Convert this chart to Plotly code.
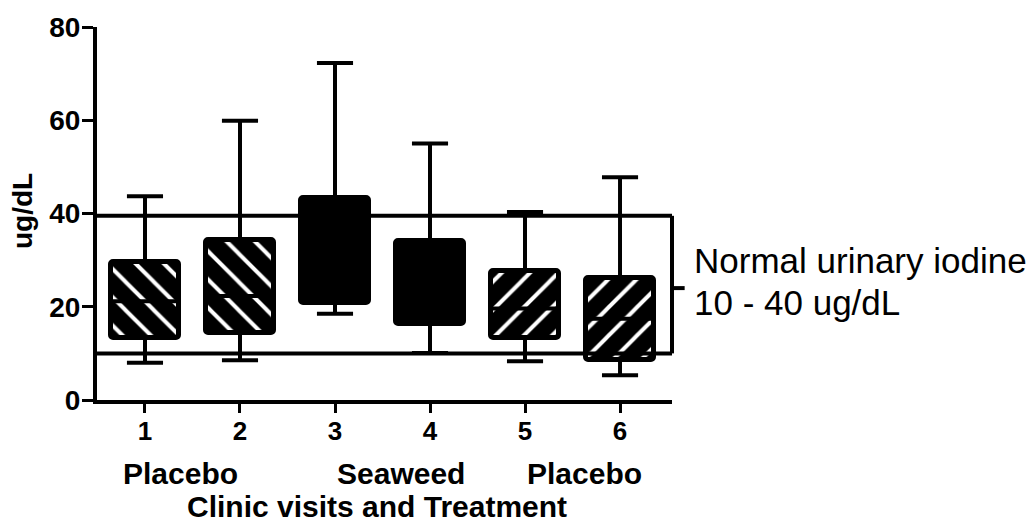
import plotly.graph_objects as go

# ---- data ----
visits = [1, 2, 3, 4, 5, 6]
whisker_min = [8.0, 8.5, 18.5, 10.1, 8.3, 5.3]
q1 = [13.3, 14.4, 20.9, 16.3, 13.4, 8.5]
median = [21.2, 22.3, 31.0, 24.0, 19.6, 17.4]
q3 = [29.5, 34.4, 43.3, 34.1, 27.7, 26.1]
whisker_max = [43.7, 59.9, 72.3, 55.0, 40.3, 47.8]
fill_pattern = ["\\", "\\", "", "", "/", "/"]
treatment_labels = ["Placebo", "Seaweed", "Placebo"]
normal_low = 10
normal_high = 39.5
y_ticks = [0, 20, 40, 60, 80]

# ---- styling / layout constants ----
FONT = "Liberation Sans, Arial, sans-serif"
BOX_W = 0.72
CAP_HALF = 0.19
LW = 4
treat_x = [1.37, 3.69, 5.63]

fig = go.Figure()

# whiskers
wx, wy = [], []
for x, lo, a, b, hi in zip(visits, whisker_min, q1, q3, whisker_max):
    wx += [x, x, None, x, x, None]
    wy += [b, hi, None, a, lo, None]
    wx += [x - CAP_HALF, x + CAP_HALF, None, x - CAP_HALF, x + CAP_HALF, None]
    wy += [hi, hi, None, lo, lo, None]
fig.add_trace(go.Scatter(x=wx, y=wy, mode="lines",
                         line=dict(color="black", width=LW),
                         hoverinfo="skip", showlegend=False))

# boxes
fig.add_trace(go.Bar(
    x=visits,
    y=[b - a for a, b in zip(q1, q3)],
    base=q1,
    width=BOX_W,
    marker=dict(
        color="black",
        line=dict(color="black", width=5),
        pattern=dict(shape=fill_pattern, fgcolor="white", bgcolor="black",
                     size=20, solidity=0.2, fillmode="replace"),
        cornerradius=3,
    ),
    showlegend=False,
))

# medians
mx, my = [], []
for x, m in zip(visits, median):
    mx += [x - BOX_W / 2, x + BOX_W / 2, None]
    my += [m, m, None]
fig.add_trace(go.Scatter(x=mx, y=my, mode="lines",
                         line=dict(color="black", width=LW),
                         hoverinfo="skip", showlegend=False))

# normal range lines and bracket
shapes = []
for v in (normal_low, normal_high):
    shapes.append(dict(type="line", xref="paper", yref="y", x0=0, x1=1, y0=v, y1=v,
                       line=dict(color="black", width=LW)))
shapes.append(dict(type="line", xref="paper", yref="y", x0=1, x1=1,
                   y0=normal_low, y1=normal_high, line=dict(color="black", width=LW)))
mid = 24
shapes.append(dict(type="line", xref="paper", yref="y", x0=1, x1=1.022,
                   y0=mid, y1=mid, line=dict(color="black", width=LW)))

annotations = [
    dict(text="Normal urinary iodine", xref="paper", yref="paper", x=1.034, y=0.374,
         xanchor="left", yanchor="middle", showarrow=False,
         font=dict(family=FONT, size=35, color="black")),
    dict(text="10 - 40 ug/dL", xref="paper", yref="paper", x=1.034, y=0.2626,
         xanchor="left", yanchor="middle", showarrow=False,
         font=dict(family=FONT, size=35, color="black")),
    dict(text="<b>ug/dL</b>", xref="paper", yref="paper", x=-0.1304, y=0.5066,
         textangle=-90, xanchor="center", yanchor="middle", showarrow=False,
         font=dict(family=FONT, size=28, color="black")),
    dict(text="<b>Clinic visits and Treatment</b>", xref="x", yref="paper", x=3.44, y=-0.2865,
         xanchor="center", yanchor="middle", showarrow=False,
         font=dict(family=FONT, size=30, color="black")),
]
for lbl, tx in zip(treatment_labels, treat_x):
    annotations.append(dict(text=f"<b>{lbl}</b>", xref="x", yref="paper", x=tx, y=-0.1976,
                            xanchor="center", yanchor="middle", showarrow=False,
                            font=dict(family=FONT, size=30, color="black")))

fig.update_layout(
    width=1031, height=523,
    margin=dict(l=97, r=359, t=23, b=123),
    paper_bgcolor="white", plot_bgcolor="white",
    shapes=shapes, annotations=annotations,
    bargap=0,
    xaxis=dict(range=[0.495, 6.547], tickmode="array", tickvals=visits,
               ticktext=[f"<b>{v}</b>" for v in visits],
               showline=True, linecolor="black", linewidth=LW,
               ticks="outside", ticklen=9, tickwidth=3, tickcolor="black",
               ticklabelstandoff=-4,
               showgrid=False, zeroline=False,
               tickfont=dict(family=FONT, size=26, color="black")),
    yaxis=dict(range=[0, 80], tickmode="array", tickvals=y_ticks,
               ticktext=[f"<b>{v}</b>" for v in y_ticks],
               showline=True, linecolor="black", linewidth=LW,
               ticks="outside", ticklen=11, tickwidth=3, tickcolor="black",
               ticklabelstandoff=-4,
               showgrid=False, zeroline=False,
               tickfont=dict(family=FONT, size=28, color="black")),
)

fig.write_html("out.html")
